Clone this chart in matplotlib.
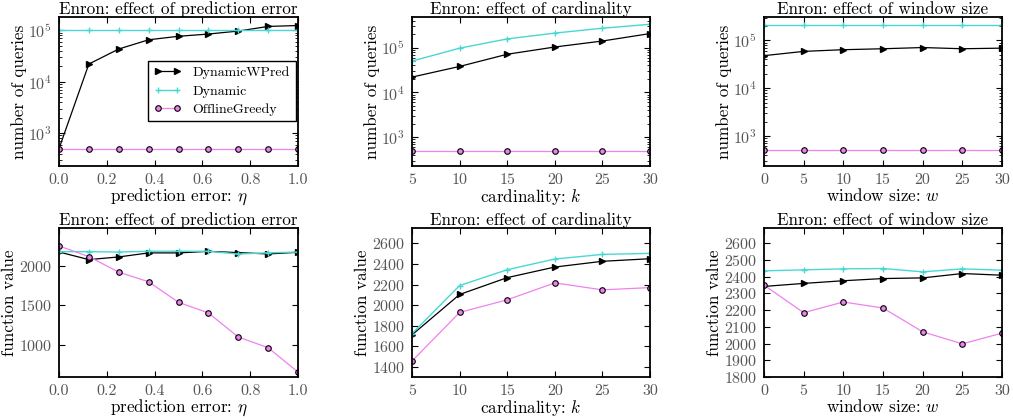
import matplotlib
matplotlib.use("Agg")
import matplotlib.pyplot as plt

plt.rcParams['font.family'] = ['cmr10', 'DejaVu Serif']
plt.rcParams['mathtext.fontset'] = 'cm'
plt.rcParams['axes.formatter.use_mathtext'] = True
plt.rcParams['axes.unicode_minus'] = False

# data
eta = [0.0, 0.125, 0.25, 0.375, 0.5, 0.625, 0.75, 0.875, 1.0]
card = [5, 10, 15, 20, 25, 30]
win = [0, 5, 10, 15, 20, 25, 30]

eta_ticks = [0.0, 0.2, 0.4, 0.6, 0.8, 1.0]
card_ticks = [5, 10, 15, 20, 25, 30]
win_ticks = [0, 5, 10, 15, 20, 25, 30]

# number of queries
q_eta_wpred = [500, 2.2e4, 4.3e4, 6.5e4, 7.6e4, 8.4e4, 9.6e4, 1.18e5, 1.23e5]
q_eta_dyn = [1e5] * 9
q_eta_off = [500] * 9

q_card_wpred = [2.2e4, 3.8e4, 7.1e4, 1.03e5, 1.4e5, 2.05e5]
q_card_dyn = [5.0e4, 9.7e4, 1.56e5, 2.1e5, 2.7e5, 3.3e5]
q_card_off = [500] * 6

q_win_wpred = [4.8e4, 5.9e4, 6.4e4, 6.7e4, 7.1e4, 6.7e4, 6.9e4]
q_win_dyn = [2.1e5] * 7
q_win_off = [500] * 7

# function value
f_eta_wpred = [2176, 2079, 2113, 2164, 2164, 2184, 2168, 2151, 2172]
f_eta_dyn = [2180, 2180, 2175, 2185, 2185, 2185, 2150, 2165, 2175]
f_eta_off = [2252, 2117, 1920, 1798, 1537, 1403, 1097, 962, 652]

f_card_wpred = [1710, 2103, 2267, 2370, 2426, 2451]
f_card_dyn = [1722, 2190, 2344, 2448, 2493, 2503]
f_card_off = [1455, 1928, 2051, 2216, 2148, 2170]

f_win_wpred = [2341, 2359, 2375, 2388, 2392, 2418, 2408]
f_win_dyn = [2434, 2440, 2446, 2448, 2428, 2446, 2438]
f_win_off = [2349, 2184, 2248, 2212, 2070, 1998, 2062]

W, H = 1013, 419
fig = plt.figure(figsize=(W / 100, H / 100), dpi=100)


def make_ax(left, top, right, bottom):
    return fig.add_axes([left / W, 1 - bottom / H, (right - left) / W, (bottom - top) / H])


def draw(ax, x, wpred, dyn, off):
    ax.plot(x, wpred, color='black', marker='>', markersize=4.5, lw=0.9, label='DynamicWPred')
    ax.plot(x, dyn, color='#48d8d4', marker='+', markersize=5, lw=1, label='Dynamic')
    ax.plot(x, off, color='violet', marker='o', markersize=4, markerfacecolor='violet',
            markeredgecolor='black', markeredgewidth=0.8, lw=0.9, label='OfflineGreedy')
    ax.tick_params(which='both', direction='in', top=True, right=True, labelsize=11.5,
                   labelcolor='#555555', pad=5)
    ax.tick_params(which='major', length=4)
    ax.tick_params(which='minor', length=2)
    for s in ax.spines.values():
        s.set_linewidth(1.3)


cols = [(59, 298), (412, 650), (764, 1002)]
top_row = (17, 166)
bot_row = (228, 377)

titles = ['Enron: effect of prediction error', 'Enron: effect of cardinality',
          'Enron: effect of window size']
xlabels = ['prediction error: $\\eta$', 'cardinality: $k$', 'window size: $w$']
xs = [eta, card, win]
xticks = [eta_ticks, card_ticks, win_ticks]
xticklabels = [['%.1f' % t for t in eta_ticks], [str(t) for t in card_ticks],
               [str(t) for t in win_ticks]]
qdata = [(q_eta_wpred, q_eta_dyn, q_eta_off), (q_card_wpred, q_card_dyn, q_card_off),
         (q_win_wpred, q_win_dyn, q_win_off)]
fdata = [(f_eta_wpred, f_eta_dyn, f_eta_off), (f_card_wpred, f_card_dyn, f_card_off),
         (f_win_wpred, f_win_dyn, f_win_off)]
qylims = [(230, 1.8e5), (230, 4.8e5), (234, 3.1e5)]
fylims = [(590, 2480), (1300, 2750), (1800, 2690)]

fs = 12.3
for i in range(3):
    l, r = cols[i]
    ax = make_ax(l, top_row[0], r, top_row[1])
    draw(ax, xs[i], *qdata[i])
    ax.set_yscale('log')
    ax.set_xlim(xs[i][0], xs[i][-1])
    ax.set_xticks(xticks[i], xticklabels[i])
    ax.set_ylim(*qylims[i])
    ax.set_title(titles[i], fontsize=fs, pad=1)
    ax.set_xlabel(xlabels[i], fontsize=fs, labelpad=0)
    ax.set_ylabel('number of queries', fontsize=fs, labelpad=1)
    if i == 0:
        ax.legend(loc='upper right', bbox_to_anchor=(0.99, 0.705), borderaxespad=0,
                  fontsize=10, numpoints=2, fancybox=False, edgecolor='black',
                  framealpha=1, handlelength=2.0, labelspacing=0.4)

    ax = make_ax(l, bot_row[0], r, bot_row[1])
    draw(ax, xs[i], *fdata[i])
    ax.set_xlim(xs[i][0], xs[i][-1])
    ax.set_xticks(xticks[i], xticklabels[i])
    ax.set_ylim(*fylims[i])
    ax.set_title(titles[i], fontsize=fs, pad=1)
    ax.set_xlabel(xlabels[i], fontsize=fs, labelpad=0)
    ax.set_ylabel('function value', fontsize=fs, labelpad=1)

ax_list = fig.axes
ax_list[1].set_yticks([1000, 1500, 2000])
ax_list[3].set_yticks(range(1400, 2601, 200))
ax_list[5].set_yticks(range(1800, 2601, 100))

fig.savefig('out.png', dpi=100)
